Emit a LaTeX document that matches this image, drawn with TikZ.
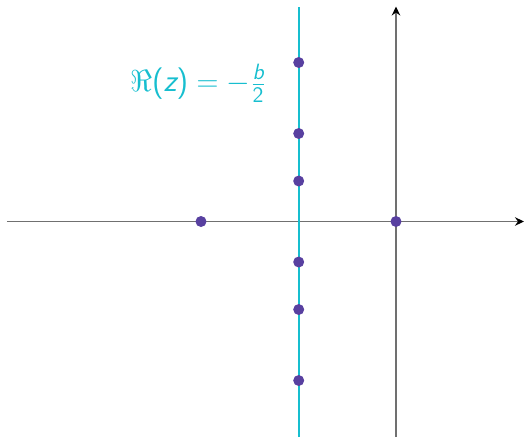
\documentclass[tikz,border=0pt]{standalone}
\usepackage{amsmath,amssymb}
\usepackage{tikz}
\usetikzlibrary{arrows.meta,positioning}
\definecolor{linecyan}{RGB}{23,190,207}
\definecolor{dotpurple}{RGB}{88,64,160}
\definecolor{axisgray}{RGB}{112,112,112}
\newcommand{\zdot}[1]{\fill[dotpurple] (#1) circle (0.11);}
\newcommand{\sfv}[1]{\text{\sffamily\itshape #1}}
\tikzset{axisline/.style={axisgray,line width=0.8pt,-{Stealth[black,length=1.8mm,width=1.7mm,inset=0.6mm]}}}

\begin{document}
\begin{tikzpicture}
\useasboundingbox (-7.92,-4.31) rectangle (2.56,4.43);
% axes
\coordinate (xl) at (-7.78,0);
\coordinate (xr) at (2.56,0);
\coordinate (yb) at (0,-4.31);
\coordinate (yt) at (0,4.30);
\draw[axisline] (xl) -- (xr);
\draw[axisline] (yb) -- (yt);
% line Re(z) = -b/2
\coordinate (cb) at (-1.946,-4.31);
\coordinate (ct) at (-1.946,4.296);
\draw[linecyan,line width=1.1pt] (cb) -- (ct);
\node[linecyan,inner sep=0pt,font=\fontsize{18}{21}\selectfont] (lbl) at (-3.96,2.76)
  {$\Re\textsf{(}\sfv{z}\textsf{)}=-\frac{\sfv{b}}{\textsf{2}}$};
% zeros
\zdot{0,0}
\zdot{-3.9,0}
\foreach \y in {0.81,1.76,3.18} {
  \zdot{-1.946,\y}
  \zdot{-1.946,-\y}
}
\end{tikzpicture}
\end{document}
